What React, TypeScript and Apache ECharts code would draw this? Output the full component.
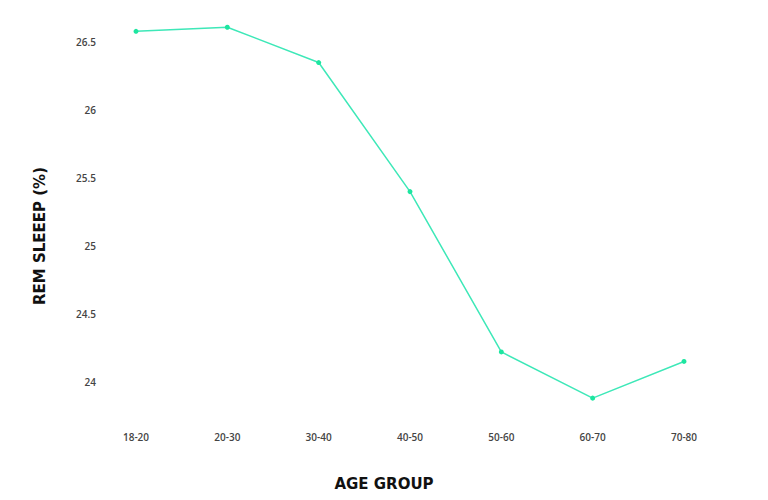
import { useEffect, useRef } from "react";
import * as echarts from "echarts";

const ageGroups = ["18-20", "20-30", "30-40", "40-50", "50-60", "60-70", "70-80"];
const remSleep = [26.58, 26.61, 26.35, 25.4, 24.22, 23.88, 24.15];
const yTicks = [24, 24.5, 25, 25.5, 26, 26.5];

const TITLE_FONT = "'DejaVu Sans', sans-serif";
const TICK_FONT = "'Open Sans', sans-serif";

export default function App() {
  const ref = useRef<HTMLDivElement>(null);

  useEffect(() => {
    document.body.style.margin = "0";
    if (!ref.current) return;
    const chart = echarts.init(ref.current, undefined, { renderer: "svg" });
    const tickLabel = { fontFamily: TICK_FONT, fontSize: 10, fontWeight: 600, color: "#444" };
    const titleStyle = { fontFamily: TITLE_FONT, fontSize: 15, fontWeight: "bold", fill: "#111" };
    chart.setOption({
      animation: false,
      backgroundColor: "#ffffff",
      grid: { left: 136, right: 84, top: 15, bottom: 91 },
      xAxis: {
        type: "category",
        data: ageGroups,
        boundaryGap: false,
        axisLine: { show: false },
        axisTick: { show: false },
        axisLabel: { margin: 23, ...tickLabel },
        splitLine: { show: false },
      },
      yAxis: {
        type: "value",
        min: 23.8,
        max: 26.7,
        axisLine: { show: false },
        axisTick: { show: false },
        axisLabel: { customValues: yTicks, margin: 40, ...tickLabel },
        splitLine: { show: false },
      },
      graphic: [
        {
          type: "text",
          x: 384,
          y: 484,
          style: { text: "AGE GROUP", align: "center", verticalAlign: "middle", ...titleStyle },
        },
        {
          type: "text",
          x: 40,
          y: 236,
          rotation: Math.PI / 2,
          style: { text: "REM SLEEEP (%)", align: "center", verticalAlign: "middle", ...titleStyle },
        },
      ],
      series: [
        {
          type: "line",
          data: remSleep,
          symbol: "circle",
          symbolSize: 5,
          lineStyle: { color: "#3ee8b8", width: 1.5 },
          itemStyle: { color: "#1de6a0" },
        },
      ],
    });
    return () => chart.dispose();
  }, []);

  return <div ref={ref} style={{ width: 768, height: 500 }} />;
}
